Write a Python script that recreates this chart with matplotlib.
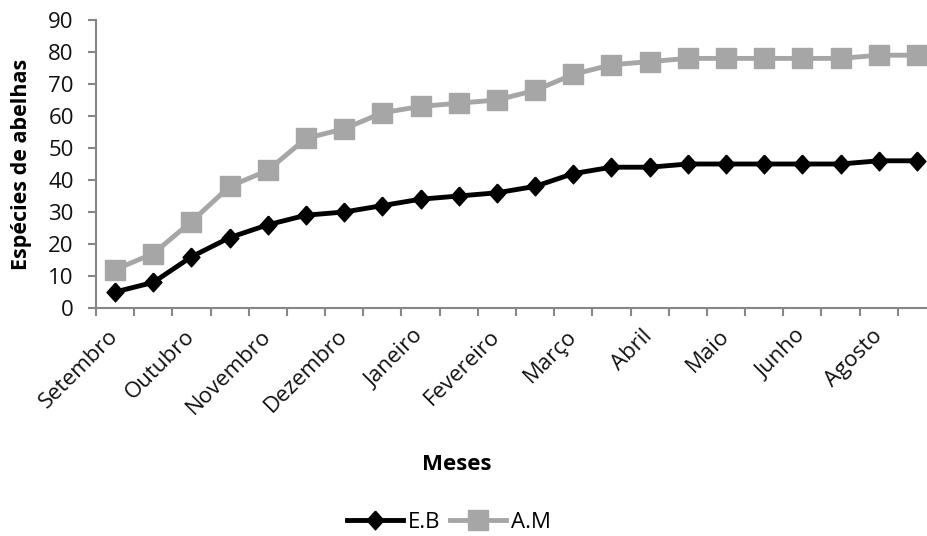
import numpy as np
import matplotlib
matplotlib.use('Agg')
import matplotlib.pyplot as plt
from matplotlib.lines import Line2D

plt.rcParams['font.family'] = ['Open Sans', 'DejaVu Sans']

# month labels (Excel shows one label every two points)
month_labels = ['Setembro', 'Outubro', 'Novembro', 'Dezembro', 'Janeiro',
                'Fevereiro', 'Março', 'Abril', 'Maio', 'Junho', 'Agosto']

# cumulative species counts
eb = [5, 8, 16, 22, 26, 29, 30, 32, 34, 35, 36, 38, 42, 44, 44, 45,
      45, 45, 45, 45, 46, 46]
am = [12, 17, 27, 38, 43, 53, 56, 61, 63, 64, 65, 68, 73, 76, 77, 78,
      78, 78, 78, 78, 79, 79]

axis_grey = '#868686'
n = len(eb)
x = np.arange(n)

# Excel-style diamond, a little taller than wide
diamond = [(0, 1), (0.9, 0), (0, -1), (-0.9, 0), (0, 1)]

fig = plt.figure(figsize=(9.28, 5.36), dpi=100)
# axes run a bit past the right edge, like the cropped original
ax = fig.add_axes([96 / 928, 228 / 536, 840 / 928, 288 / 536])

ax.plot(x, eb, color='black', lw=3.5, marker=diamond, ms=13.5, zorder=3,
        label='E.B')
ax.plot(x, am, color='#a6a6a6', lw=3.5, marker='s', ms=14, zorder=2,
        label='A.M')

ax.set_xlim(-0.5, n - 0.5)
ax.set_ylim(0, 90)
ax.set_yticks(range(0, 91, 10))

# tick marks sit between categories, labels on every other category
ax.set_xticks(np.arange(-0.5, n, 1.0), minor=True)
ax.set_xticks(x[::2])
ax.set_xticklabels(month_labels, rotation=45, ha='right', va='center',
                   rotation_mode='anchor')
ax.tick_params(axis='x', which='major', length=0, pad=18, labelsize=16,
               labelcolor='#111111')
ax.tick_params(axis='x', which='minor', length=6, width=1.5,
               color=axis_grey, direction='out')
ax.tick_params(axis='y', length=6, width=1.5, color=axis_grey, pad=10,
               labelsize=16, labelcolor='#111111')

for side in ['top', 'right']:
    ax.spines[side].set_visible(False)
for side in ['left', 'bottom']:
    ax.spines[side].set_color(axis_grey)
    ax.spines[side].set_linewidth(1.5)

ax.set_ylabel('Espécies de abelhas', fontsize=15.5, fontweight='bold')
ax.yaxis.set_label_coords(-64 / 840, 0.5)
fig.text(457 / 928, 1 - 465 / 536, 'Meses', ha='center', va='center',
         fontsize=16, fontweight='bold')

handles = [Line2D([], [], color='black', lw=3.5, marker=diamond, ms=13.5),
           Line2D([], [], color='#a6a6a6', lw=3.5, marker='s', ms=14)]
fig.legend(handles, ['E.B', 'A.M'], loc='center',
           bbox_to_anchor=(449 / 928, 1 - 522 / 536), ncol=2, frameon=False,
           fontsize=16, handlelength=2.5, handletextpad=0.22,
           columnspacing=0.45)

fig.savefig('out.png', dpi=100)
